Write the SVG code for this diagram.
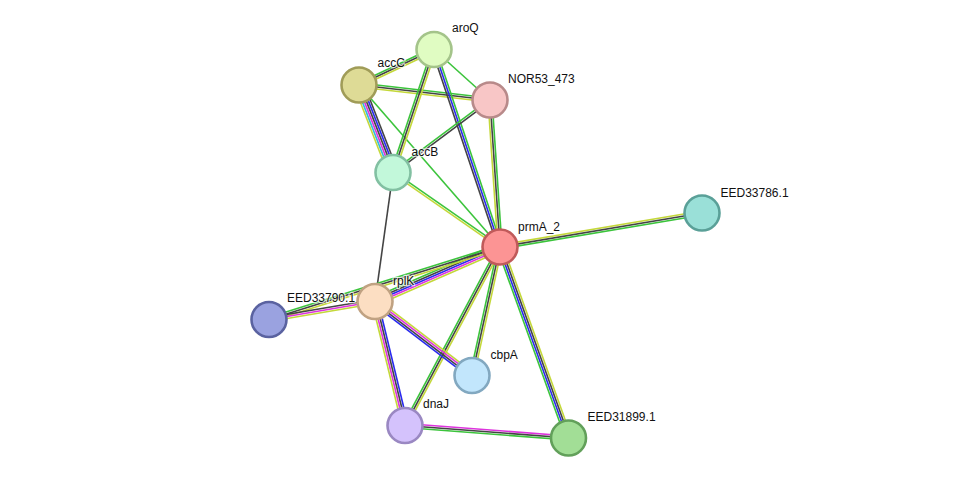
<svg xmlns="http://www.w3.org/2000/svg" width="975" height="484" viewBox="0 0 975 484">
<style>
line{stroke-width:1.6;fill:none}
.nb{stroke:#3cc43c}
.co{stroke:#444444}
.cc{stroke:#2a2aee}
.ex{stroke:#dd33dd}
.db{stroke:#33b8dd}
.tm{stroke:#c4d83a}
circle{stroke-width:2.6}
text{font-family:"Liberation Sans",Arial,sans-serif;font-size:12px;fill:#111;stroke:#fff;stroke-width:2.5;stroke-opacity:0.7;paint-order:stroke;stroke-linejoin:round}
</style>
<rect width="975" height="484" fill="#fff"/>
<g id="edges">
<g transform="translate(359,85) rotate(-25.33)"><line class="nb" x1="0" y1="-2" x2="82.98" y2="-2"/><line class="co" x1="0" y1="0" x2="82.98" y2="0"/><line class="tm" x1="0" y1="2" x2="82.98" y2="2"/></g>
<g transform="translate(359,85) rotate(6.53)"><line class="nb" x1="0" y1="-2" x2="131.86" y2="-2"/><line class="co" x1="0" y1="0" x2="131.86" y2="0"/><line class="tm" x1="0" y1="2" x2="131.86" y2="2"/></g>
<g transform="translate(359,85) rotate(68.77)"><line class="co" x1="0" y1="-5" x2="93.87" y2="-5"/><line class="cc" x1="0" y1="-3" x2="93.87" y2="-3"/><line class="co" x1="0" y1="-1" x2="93.87" y2="-1"/><line class="ex" x1="0" y1="1" x2="93.87" y2="1"/><line class="db" x1="0" y1="3" x2="93.87" y2="3"/><line class="tm" x1="0" y1="5" x2="93.87" y2="5"/></g>
<g transform="translate(359,85) rotate(48.96)"><line class="nb" x1="0" y1="0" x2="214.77" y2="0"/></g>
<g transform="translate(434,49.5) rotate(108.44)"><line class="tm" x1="0" y1="-2" x2="129.65" y2="-2"/><line class="co" x1="0" y1="0" x2="129.65" y2="0"/><line class="nb" x1="0" y1="2" x2="129.65" y2="2"/></g>
<g transform="translate(434,49.5) rotate(42.04)"><line class="nb" x1="0" y1="0" x2="75.41" y2="0"/></g>
<g transform="translate(434,49.5) rotate(71.52)"><line class="nb" x1="0" y1="-2" x2="208.24" y2="-2"/><line class="cc" x1="0" y1="0" x2="208.24" y2="0"/><line class="co" x1="0" y1="2" x2="208.24" y2="2"/></g>
<g transform="translate(490,100) rotate(143.22)"><line class="co" x1="0" y1="-1" x2="121.1" y2="-1"/><line class="nb" x1="0" y1="1" x2="121.1" y2="1"/></g>
<g transform="translate(490,100) rotate(86.11)"><line class="nb" x1="0" y1="-2" x2="147.34" y2="-2"/><line class="co" x1="0" y1="0" x2="147.34" y2="0"/><line class="tm" x1="0" y1="2" x2="147.34" y2="2"/></g>
<g transform="translate(393,172.5) rotate(34.85)"><line class="nb" x1="0" y1="-1" x2="130.38" y2="-1"/><line class="tm" x1="0" y1="1" x2="130.38" y2="1"/></g>
<g transform="translate(393,172.5) rotate(97.94)"><line class="co" x1="0" y1="0" x2="130.25" y2="0"/></g>
<g transform="translate(500,247) rotate(-9.55)"><line class="tm" x1="0" y1="-2" x2="204.84" y2="-2"/><line class="co" x1="0" y1="0" x2="204.84" y2="0"/><line class="nb" x1="0" y1="2" x2="204.84" y2="2"/></g>
<g transform="translate(375,301.5) rotate(-23.56)"><line class="nb" x1="0" y1="-4" x2="136.36" y2="-4"/><line class="co" x1="0" y1="-2" x2="136.36" y2="-2"/><line class="cc" x1="0" y1="0" x2="136.36" y2="0"/><line class="ex" x1="0" y1="2" x2="136.36" y2="2"/><line class="tm" x1="0" y1="4" x2="136.36" y2="4"/></g>
<g transform="translate(269,319.5) rotate(-17.42)"><line class="nb" x1="0" y1="-2" x2="242.11" y2="-2"/><line class="co" x1="0" y1="0" x2="242.11" y2="0"/><line class="tm" x1="0" y1="2" x2="242.11" y2="2"/></g>
<g transform="translate(269,319.5) rotate(-9.64)"><line class="co" x1="0" y1="-2" x2="107.52" y2="-2"/><line class="ex" x1="0" y1="0" x2="107.52" y2="0"/><line class="tm" x1="0" y1="2" x2="107.52" y2="2"/></g>
<g transform="translate(500,247) rotate(102.29)"><line class="tm" x1="0" y1="-2" x2="131.52" y2="-2"/><line class="co" x1="0" y1="0" x2="131.52" y2="0"/><line class="nb" x1="0" y1="2" x2="131.52" y2="2"/></g>
<g transform="translate(500,247) rotate(118.02)"><line class="tm" x1="0" y1="-2" x2="202.21" y2="-2"/><line class="co" x1="0" y1="0" x2="202.21" y2="0"/><line class="nb" x1="0" y1="2" x2="202.21" y2="2"/></g>
<g transform="translate(500,247) rotate(70.27)"><line class="tm" x1="0" y1="-3" x2="202.91" y2="-3"/><line class="co" x1="0" y1="-1" x2="202.91" y2="-1"/><line class="cc" x1="0" y1="1" x2="202.91" y2="1"/><line class="nb" x1="0" y1="3" x2="202.91" y2="3"/></g>
<g transform="translate(375,301.5) rotate(37.34)"><line class="tm" x1="0" y1="-3" x2="122" y2="-3"/><line class="ex" x1="0" y1="-1" x2="122" y2="-1"/><line class="co" x1="0" y1="1" x2="122" y2="1"/><line class="cc" x1="0" y1="3" x2="122" y2="3"/></g>
<g transform="translate(375,301.5) rotate(76.4)"><line class="cc" x1="0" y1="-3" x2="127.58" y2="-3"/><line class="co" x1="0" y1="-1" x2="127.58" y2="-1"/><line class="ex" x1="0" y1="1" x2="127.58" y2="1"/><line class="tm" x1="0" y1="3" x2="127.58" y2="3"/></g>
<g transform="translate(405,425.5) rotate(4.37)"><line class="ex" x1="0" y1="-2" x2="163.98" y2="-2"/><line class="co" x1="0" y1="0" x2="163.98" y2="0"/><line class="nb" x1="0" y1="2" x2="163.98" y2="2"/></g>
</g>
<g id="node-aroQ"><circle cx="434" cy="49.5" r="17.5" fill="#e0fcc2" stroke="#a4c48a"/><text x="452" y="32">aroQ</text></g>
<g id="node-accC"><circle cx="359" cy="85" r="17.5" fill="#dedb96" stroke="#a09c58"/><text x="377.5" y="67">accC</text></g>
<g id="node-NOR53_473"><circle cx="490" cy="100" r="17.5" fill="#f8c6c6" stroke="#b88a8a"/><text x="508" y="83">NOR53_473</text></g>
<g id="node-accB"><circle cx="393" cy="172.5" r="17.5" fill="#c2f8da" stroke="#82c0a2"/><text x="411.5" y="155.5">accB</text></g>
<g id="node-EED33786.1"><circle cx="702" cy="213" r="17.5" fill="#9ae0d8" stroke="#5aa098"/><text x="720.5" y="196.5">EED33786.1</text></g>
<g id="node-prmA_2"><circle cx="500" cy="247" r="17.5" fill="#fc9494" stroke="#c05a5a"/><text x="518" y="230.5">prmA_2</text></g>
<g id="node-EED33790.1"><circle cx="269" cy="319.5" r="17.5" fill="#9aa2e0" stroke="#5a62a0"/><text x="287" y="302">EED33790.1</text></g>
<g id="node-rplK"><circle cx="375" cy="301.5" r="17.5" fill="#fcdec2" stroke="#c0a282"/><text x="393" y="284.5">rplK</text></g>
<g id="node-cbpA"><circle cx="472" cy="375.5" r="17.5" fill="#c2e6fc" stroke="#82a8c0"/><text x="490.5" y="358.5">cbpA</text></g>
<g id="node-dnaJ"><circle cx="405" cy="425.5" r="17.5" fill="#d4c2fc" stroke="#9a88c2"/><text x="423" y="408">dnaJ</text></g>
<g id="node-EED31899.1"><circle cx="568.5" cy="438" r="17.5" fill="#a2de96" stroke="#62a05a"/><text x="587.5" y="420.5">EED31899.1</text></g>
</svg>
